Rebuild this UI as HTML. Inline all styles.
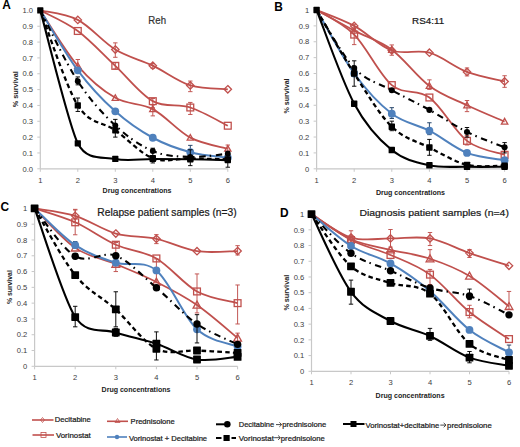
<!DOCTYPE html><html><head><meta charset="utf-8"><style>
html,body{margin:0;padding:0;background:#fff;width:520px;height:447px;overflow:hidden}
svg{display:block}
text{font-family:"Liberation Sans",sans-serif}
</style></head><body>
<svg width="520" height="447" viewBox="0 0 520 447">
<rect width="520" height="447" fill="#fff"/>
<g><path d="M40.30,10.40 V168.80 M40.30,168.80 H227.80" stroke="#c8c8c8" stroke-width="1.2" fill="none"/>
<path d="M37.30,168.80 H40.30 M37.30,152.96 H40.30 M37.30,137.12 H40.30 M37.30,121.28 H40.30 M37.30,105.44 H40.30 M37.30,89.60 H40.30 M37.30,73.76 H40.30 M37.30,57.92 H40.30 M37.30,42.08 H40.30 M37.30,26.24 H40.30 M37.30,10.40 H40.30 M40.30,168.80 V171.80 M77.80,168.80 V171.80 M115.30,168.80 V171.80 M152.80,168.80 V171.80 M190.30,168.80 V171.80 M227.80,168.80 V171.80 " stroke="#c8c8c8" stroke-width="1" fill="none"/>
<text x="33.00" y="171.50" font-size="7.6" fill="#3c3c3c" text-anchor="end">0.0</text>
<text x="33.00" y="155.66" font-size="7.6" fill="#3c3c3c" text-anchor="end">0.1</text>
<text x="33.00" y="139.82" font-size="7.6" fill="#3c3c3c" text-anchor="end">0.2</text>
<text x="33.00" y="123.98" font-size="7.6" fill="#3c3c3c" text-anchor="end">0.3</text>
<text x="33.00" y="108.14" font-size="7.6" fill="#3c3c3c" text-anchor="end">0.4</text>
<text x="33.00" y="92.30" font-size="7.6" fill="#3c3c3c" text-anchor="end">0.5</text>
<text x="33.00" y="76.46" font-size="7.6" fill="#3c3c3c" text-anchor="end">0.6</text>
<text x="33.00" y="60.62" font-size="7.6" fill="#3c3c3c" text-anchor="end">0.7</text>
<text x="33.00" y="44.78" font-size="7.6" fill="#3c3c3c" text-anchor="end">0.8</text>
<text x="33.00" y="28.94" font-size="7.6" fill="#3c3c3c" text-anchor="end">0.9</text>
<text x="33.00" y="13.10" font-size="7.6" fill="#3c3c3c" text-anchor="end">1.0</text>
<text x="40.30" y="182.60" font-size="7.6" fill="#3c3c3c" text-anchor="middle">1</text>
<text x="77.80" y="182.60" font-size="7.6" fill="#3c3c3c" text-anchor="middle">2</text>
<text x="115.30" y="182.60" font-size="7.6" fill="#3c3c3c" text-anchor="middle">3</text>
<text x="152.80" y="182.60" font-size="7.6" fill="#3c3c3c" text-anchor="middle">4</text>
<text x="190.30" y="182.60" font-size="7.6" fill="#3c3c3c" text-anchor="middle">5</text>
<text x="227.80" y="182.60" font-size="7.6" fill="#3c3c3c" text-anchor="middle">6</text>
<text transform="translate(18.00,107.30) rotate(-90)" font-size="7.53" font-weight="bold" fill="#222" textLength="36.10" lengthAdjust="spacingAndGlyphs">% survival</text>
<text x="102.60" y="193.00" font-size="7.40" fill="#222" font-weight="bold" textLength="68.80" lengthAdjust="spacingAndGlyphs">Drug concentrations</text>
<text x="2.20" y="9.20" font-size="11.9" font-weight="bold" fill="#000">A</text>
<text x="148.35" y="23.75" font-size="10.47" fill="#333" stroke="#333" stroke-width="0.22" textLength="17.65" lengthAdjust="spacingAndGlyphs">Reh</text>
<path d="M40.30,10.40 C46.55,11.98 65.30,13.38 77.80,19.90 C90.30,26.42 102.80,41.90 115.30,49.52 C127.80,57.15 140.30,59.69 152.80,65.68 C165.30,71.67 177.80,81.55 190.30,85.48 C202.80,89.42 221.55,88.65 227.80,89.28" stroke="#c0504d" stroke-width="1.8" fill="none"/>
<path d="M115.30,57.29 V42.87 M113.10,57.29 H117.50 M113.10,42.87 H117.50" stroke="#c0504d" stroke-width="0.95" fill="none"/>
<path d="M152.80,68.22 V63.46 M150.60,68.22 H155.00 M150.60,63.46 H155.00" stroke="#c0504d" stroke-width="0.95" fill="none"/>
<path d="M190.30,91.66 V81.05 M188.10,91.66 H192.50 M188.10,81.05 H192.50" stroke="#c0504d" stroke-width="0.95" fill="none"/>
<path d="M77.80,16.20 L81.50,19.90 L77.80,23.60 L74.10,19.90 Z" fill="none" stroke="#c0504d" stroke-width="1.3"/>
<path d="M115.30,45.82 L119.00,49.52 L115.30,53.22 L111.60,49.52 Z" fill="none" stroke="#c0504d" stroke-width="1.3"/>
<path d="M152.80,61.98 L156.50,65.68 L152.80,69.38 L149.10,65.68 Z" fill="none" stroke="#c0504d" stroke-width="1.3"/>
<path d="M190.30,81.78 L194.00,85.48 L190.30,89.18 L186.60,85.48 Z" fill="none" stroke="#c0504d" stroke-width="1.3"/>
<path d="M227.80,85.58 L231.50,89.28 L227.80,92.98 L224.10,89.28 Z" fill="none" stroke="#c0504d" stroke-width="1.3"/>
<path d="M40.30,10.40 C46.55,13.83 65.30,21.75 77.80,30.99 C90.30,40.23 102.80,54.14 115.30,65.84 C127.80,77.54 140.30,94.22 152.80,101.16 C165.30,108.11 177.80,103.41 190.30,107.50 C202.80,111.59 221.55,122.68 227.80,125.72" stroke="#c0504d" stroke-width="1.8" fill="none"/>
<path d="M115.30,69.01 V62.67 M113.10,69.01 H117.50 M113.10,62.67 H117.50" stroke="#c0504d" stroke-width="0.95" fill="none"/>
<path d="M152.80,107.82 V98.47 M150.60,107.82 H155.00 M150.60,98.47 H155.00" stroke="#c0504d" stroke-width="0.95" fill="none"/>
<path d="M190.30,114.47 V102.43 M188.10,114.47 H192.50 M188.10,102.43 H192.50" stroke="#c0504d" stroke-width="0.95" fill="none"/>
<rect x="74.40" y="27.59" width="6.80" height="6.80" fill="none" stroke="#c0504d" stroke-width="1.3"/>
<rect x="111.90" y="62.44" width="6.80" height="6.80" fill="none" stroke="#c0504d" stroke-width="1.3"/>
<rect x="149.40" y="97.76" width="6.80" height="6.80" fill="none" stroke="#c0504d" stroke-width="1.3"/>
<rect x="186.90" y="104.10" width="6.80" height="6.80" fill="none" stroke="#c0504d" stroke-width="1.3"/>
<rect x="224.40" y="122.32" width="6.80" height="6.80" fill="none" stroke="#c0504d" stroke-width="1.3"/>
<path d="M40.30,10.40 C46.55,19.64 65.30,51.27 77.80,65.84 C90.30,80.41 102.80,90.63 115.30,97.84 C127.80,105.04 140.30,102.46 152.80,109.08 C165.30,115.71 177.80,131.00 190.30,137.60 C202.80,144.20 221.55,146.84 227.80,148.68" stroke="#c0504d" stroke-width="1.8" fill="none"/>
<path d="M77.80,72.18 V59.50 M75.60,72.18 H80.00 M75.60,59.50 H80.00" stroke="#c0504d" stroke-width="0.95" fill="none"/>
<path d="M152.80,115.89 V104.96 M150.60,115.89 H155.00 M150.60,104.96 H155.00" stroke="#c0504d" stroke-width="0.95" fill="none"/>
<path d="M227.80,151.38 V145.04 M225.60,151.38 H230.00 M225.60,145.04 H230.00" stroke="#c0504d" stroke-width="0.95" fill="none"/>
<path d="M77.80,62.72 L80.92,68.34 L74.68,68.34 Z" fill="none" stroke="#c0504d" stroke-width="1.3"/>
<path d="M115.30,94.72 L118.42,100.33 L112.18,100.33 Z" fill="none" stroke="#c0504d" stroke-width="1.3"/>
<path d="M152.80,105.96 L155.92,111.58 L149.68,111.58 Z" fill="none" stroke="#c0504d" stroke-width="1.3"/>
<path d="M190.30,134.48 L193.42,140.09 L187.18,140.09 Z" fill="none" stroke="#c0504d" stroke-width="1.3"/>
<path d="M227.80,145.56 L230.92,151.18 L224.68,151.18 Z" fill="none" stroke="#c0504d" stroke-width="1.3"/>
<path d="M40.30,10.40 C46.55,20.38 65.30,53.46 77.80,70.28 C90.30,87.09 102.80,100.05 115.30,111.30 C127.80,122.55 140.30,130.94 152.80,137.75 C165.30,144.56 177.80,148.84 190.30,152.17 C202.80,155.49 221.55,156.79 227.80,157.71" stroke="#4f81bd" stroke-width="2.0" fill="none"/>
<path d="M190.30,156.13 V145.36 M188.10,156.13 H192.50 M188.10,145.36 H192.50" stroke="#1f3f66" stroke-width="0.95" fill="none"/>
<circle cx="77.80" cy="70.28" r="3.9" fill="#4f81bd"/>
<circle cx="115.30" cy="111.30" r="3.9" fill="#4f81bd"/>
<circle cx="152.80" cy="137.75" r="3.9" fill="#4f81bd"/>
<circle cx="190.30" cy="152.17" r="3.9" fill="#4f81bd"/>
<circle cx="227.80" cy="157.71" r="3.9" fill="#4f81bd"/>
<path d="M40.30,10.40 C46.55,22.20 65.30,62.04 77.80,81.20 C90.30,100.37 102.80,113.76 115.30,125.40 C127.80,137.04 140.30,145.81 152.80,151.06 C165.30,156.31 177.80,156.47 190.30,156.92 C202.80,157.37 221.55,154.28 227.80,153.75" stroke="#000000" stroke-width="2.1" fill="none" stroke-dasharray="6.5 4 1.5 4.5"/>
<path d="M77.80,84.85 V76.93 M75.60,84.85 H80.00 M75.60,76.93 H80.00" stroke="#000" stroke-width="0.95" fill="none"/>
<path d="M115.30,137.12 V119.38 M113.10,137.12 H117.50 M113.10,119.38 H117.50" stroke="#000" stroke-width="0.95" fill="none"/>
<circle cx="77.80" cy="81.20" r="2.96" fill="#000"/>
<circle cx="115.30" cy="125.40" r="2.96" fill="#000"/>
<circle cx="152.80" cy="151.06" r="2.96" fill="#000"/>
<circle cx="190.30" cy="156.92" r="2.96" fill="#000"/>
<circle cx="227.80" cy="153.75" r="2.96" fill="#000"/>
<path d="M40.30,10.40 C46.55,26.24 65.87,86.37 77.80,105.44 C89.73,124.51 102.80,121.52 115.30,130.31 C127.80,139.10 140.30,153.49 152.80,158.19 C165.30,162.89 177.80,158.32 190.30,158.50 C202.80,158.69 221.55,159.16 227.80,159.30" stroke="#000000" stroke-width="2.3" fill="none" stroke-dasharray="4.6 3.2"/>
<path d="M77.80,111.46 V98.00 M75.60,111.46 H80.00 M75.60,98.00 H80.00" stroke="#000" stroke-width="0.95" fill="none"/>
<rect x="74.68" y="102.32" width="6.24" height="6.24" rx="0.6" fill="#000"/>
<rect x="112.18" y="127.19" width="6.24" height="6.24" rx="0.6" fill="#000"/>
<rect x="149.68" y="155.07" width="6.24" height="6.24" rx="0.6" fill="#000"/>
<rect x="187.18" y="155.38" width="6.24" height="6.24" rx="0.6" fill="#000"/>
<rect x="224.68" y="156.18" width="6.24" height="6.24" rx="0.6" fill="#000"/>
<path d="M40.30,10.40 C46.55,32.55 68.64,125.15 77.80,143.30 C86.96,161.44 102.80,156.37 115.30,158.98 C127.80,161.59 140.30,158.93 152.80,158.98 C165.30,159.03 177.80,159.11 190.30,159.30 C202.80,159.48 221.55,159.96 227.80,160.09" stroke="#000000" stroke-width="2.1" fill="none"/>
<path d="M152.80,162.94 V148.21 M150.60,162.94 H155.00 M150.60,148.21 H155.00" stroke="#000" stroke-width="0.95" fill="none"/>
<path d="M190.30,165.63 V149.79 M188.10,165.63 H192.50 M188.10,149.79 H192.50" stroke="#000" stroke-width="0.95" fill="none"/>
<path d="M227.80,167.22 V151.38 M225.60,167.22 H230.00 M225.60,151.38 H230.00" stroke="#000" stroke-width="0.95" fill="none"/>
<rect x="74.68" y="140.18" width="6.24" height="6.24" rx="0.6" fill="#000"/>
<rect x="112.18" y="155.86" width="6.24" height="6.24" rx="0.6" fill="#000"/>
<rect x="149.68" y="155.86" width="6.24" height="6.24" rx="0.6" fill="#000"/>
<rect x="187.18" y="156.18" width="6.24" height="6.24" rx="0.6" fill="#000"/>
<rect x="224.68" y="156.97" width="6.24" height="6.24" rx="0.6" fill="#000"/>
<rect x="37.18" y="7.28" width="6.24" height="6.24" rx="0.6" fill="#000"/></g>
<g><path d="M316.60,10.00 V168.80 M316.60,168.80 H504.60" stroke="#c8c8c8" stroke-width="1.2" fill="none"/>
<path d="M313.60,168.80 H316.60 M313.60,152.92 H316.60 M313.60,137.04 H316.60 M313.60,121.16 H316.60 M313.60,105.28 H316.60 M313.60,89.40 H316.60 M313.60,73.52 H316.60 M313.60,57.64 H316.60 M313.60,41.76 H316.60 M313.60,25.88 H316.60 M313.60,10.00 H316.60 M316.60,168.80 V171.80 M354.20,168.80 V171.80 M391.80,168.80 V171.80 M429.40,168.80 V171.80 M467.00,168.80 V171.80 M504.60,168.80 V171.80 " stroke="#c8c8c8" stroke-width="1" fill="none"/>
<text x="309.30" y="171.50" font-size="7.6" fill="#3c3c3c" text-anchor="end">0</text>
<text x="309.30" y="155.62" font-size="7.6" fill="#3c3c3c" text-anchor="end">0.1</text>
<text x="309.30" y="139.74" font-size="7.6" fill="#3c3c3c" text-anchor="end">0.2</text>
<text x="309.30" y="123.86" font-size="7.6" fill="#3c3c3c" text-anchor="end">0.3</text>
<text x="309.30" y="107.98" font-size="7.6" fill="#3c3c3c" text-anchor="end">0.4</text>
<text x="309.30" y="92.10" font-size="7.6" fill="#3c3c3c" text-anchor="end">0.5</text>
<text x="309.30" y="76.22" font-size="7.6" fill="#3c3c3c" text-anchor="end">0.6</text>
<text x="309.30" y="60.34" font-size="7.6" fill="#3c3c3c" text-anchor="end">0.7</text>
<text x="309.30" y="44.46" font-size="7.6" fill="#3c3c3c" text-anchor="end">0.8</text>
<text x="309.30" y="28.58" font-size="7.6" fill="#3c3c3c" text-anchor="end">0.9</text>
<text x="309.30" y="12.70" font-size="7.6" fill="#3c3c3c" text-anchor="end">1</text>
<text x="316.60" y="182.60" font-size="7.6" fill="#3c3c3c" text-anchor="middle">1</text>
<text x="354.20" y="182.60" font-size="7.6" fill="#3c3c3c" text-anchor="middle">2</text>
<text x="391.80" y="182.60" font-size="7.6" fill="#3c3c3c" text-anchor="middle">3</text>
<text x="429.40" y="182.60" font-size="7.6" fill="#3c3c3c" text-anchor="middle">4</text>
<text x="467.00" y="182.60" font-size="7.6" fill="#3c3c3c" text-anchor="middle">5</text>
<text x="504.60" y="182.60" font-size="7.6" fill="#3c3c3c" text-anchor="middle">6</text>
<text transform="translate(289.00,113.60) rotate(-90)" font-size="7.53" font-weight="bold" fill="#222" textLength="35.20" lengthAdjust="spacingAndGlyphs">% survival</text>
<text x="375.90" y="195.00" font-size="7.40" fill="#222" font-weight="bold" textLength="69.10" lengthAdjust="spacingAndGlyphs">Drug concentrations</text>
<text x="274.30" y="10.60" font-size="11.9" font-weight="bold" fill="#000">B</text>
<text x="412.10" y="23.75" font-size="9.64" fill="#1a1a1a" stroke="#1a1a1a" stroke-width="0.22" textLength="32.05" lengthAdjust="spacingAndGlyphs">RS4:11</text>
<path d="M316.60,10.00 C322.87,12.65 341.67,19.13 354.20,25.88 C366.73,32.63 379.27,46.02 391.80,50.49 C404.33,54.97 416.87,49.14 429.40,52.72 C441.93,56.29 454.47,67.14 467.00,71.93 C479.53,76.72 498.33,79.87 504.60,81.46" stroke="#c0504d" stroke-width="1.8" fill="none"/>
<path d="M391.80,55.26 V44.94 M389.60,55.26 H394.00 M389.60,44.94 H394.00" stroke="#c0504d" stroke-width="0.95" fill="none"/>
<path d="M467.00,75.90 V67.96 M464.80,75.90 H469.20 M464.80,67.96 H469.20" stroke="#c0504d" stroke-width="0.95" fill="none"/>
<path d="M504.60,87.34 V75.74 M502.40,87.34 H506.80 M502.40,75.74 H506.80" stroke="#c0504d" stroke-width="0.95" fill="none"/>
<path d="M354.20,22.18 L357.90,25.88 L354.20,29.58 L350.50,25.88 Z" fill="none" stroke="#c0504d" stroke-width="1.3"/>
<path d="M391.80,46.79 L395.50,50.49 L391.80,54.19 L388.10,50.49 Z" fill="none" stroke="#c0504d" stroke-width="1.3"/>
<path d="M429.40,49.02 L433.10,52.72 L429.40,56.42 L425.70,52.72 Z" fill="none" stroke="#c0504d" stroke-width="1.3"/>
<path d="M467.00,68.23 L470.70,71.93 L467.00,75.63 L463.30,71.93 Z" fill="none" stroke="#c0504d" stroke-width="1.3"/>
<path d="M504.60,77.76 L508.30,81.46 L504.60,85.16 L500.90,81.46 Z" fill="none" stroke="#c0504d" stroke-width="1.3"/>
<path d="M316.60,10.00 C322.87,14.10 341.67,22.10 354.20,34.61 C366.73,47.13 379.27,74.63 391.80,85.11 C404.33,95.59 416.87,88.21 429.40,97.50 C441.93,106.79 454.47,131.30 467.00,140.85 C479.53,150.41 498.33,152.50 504.60,154.83" stroke="#c0504d" stroke-width="1.8" fill="none"/>
<path d="M354.20,44.62 V24.29 M352.00,44.62 H356.40 M352.00,24.29 H356.40" stroke="#c0504d" stroke-width="0.95" fill="none"/>
<path d="M467.00,144.98 V135.45 M464.80,144.98 H469.20 M464.80,135.45 H469.20" stroke="#c0504d" stroke-width="0.95" fill="none"/>
<path d="M504.60,159.27 V151.33 M502.40,159.27 H506.80 M502.40,151.33 H506.80" stroke="#c0504d" stroke-width="0.95" fill="none"/>
<rect x="350.80" y="31.21" width="6.80" height="6.80" fill="none" stroke="#c0504d" stroke-width="1.3"/>
<rect x="388.40" y="81.71" width="6.80" height="6.80" fill="none" stroke="#c0504d" stroke-width="1.3"/>
<rect x="426.00" y="94.10" width="6.80" height="6.80" fill="none" stroke="#c0504d" stroke-width="1.3"/>
<rect x="463.60" y="137.45" width="6.80" height="6.80" fill="none" stroke="#c0504d" stroke-width="1.3"/>
<rect x="501.20" y="151.43" width="6.80" height="6.80" fill="none" stroke="#c0504d" stroke-width="1.3"/>
<path d="M316.60,10.00 C322.87,13.44 341.67,24.03 354.20,30.64 C366.73,37.26 379.27,40.49 391.80,49.70 C404.33,58.91 416.87,76.64 429.40,85.91 C441.93,95.17 454.47,99.33 467.00,105.28 C479.53,111.23 498.33,118.91 504.60,121.64" stroke="#c0504d" stroke-width="1.8" fill="none"/>
<path d="M429.40,89.40 V79.87 M427.20,89.40 H431.60 M427.20,79.87 H431.60" stroke="#c0504d" stroke-width="0.95" fill="none"/>
<path d="M467.00,111.63 V100.52 M464.80,111.63 H469.20 M464.80,100.52 H469.20" stroke="#c0504d" stroke-width="0.95" fill="none"/>
<path d="M354.20,27.45 L357.40,33.20 L351.00,33.20 Z" fill="none" stroke="#c0504d" stroke-width="1.3"/>
<path d="M391.80,46.50 L395.00,52.26 L388.60,52.26 Z" fill="none" stroke="#c0504d" stroke-width="1.3"/>
<path d="M429.40,82.71 L432.60,88.46 L426.20,88.46 Z" fill="none" stroke="#c0504d" stroke-width="1.3"/>
<path d="M467.00,102.08 L470.20,107.84 L463.80,107.84 Z" fill="none" stroke="#c0504d" stroke-width="1.3"/>
<path d="M504.60,118.44 L507.80,124.19 L501.40,124.19 Z" fill="none" stroke="#c0504d" stroke-width="1.3"/>
<path d="M316.60,10.00 C322.87,20.59 341.67,56.24 354.20,73.52 C366.73,90.80 379.27,104.17 391.80,113.70 C404.33,123.22 416.87,124.15 429.40,130.69 C441.93,137.23 454.47,148.00 467.00,152.92 C479.53,157.84 498.33,159.01 504.60,160.22" stroke="#4f81bd" stroke-width="2.0" fill="none"/>
<path d="M391.80,118.46 V107.66 M389.60,118.46 H394.00 M389.60,107.66 H394.00" stroke="#1f3f66" stroke-width="0.95" fill="none"/>
<path d="M429.40,134.66 V122.75 M427.20,134.66 H431.60 M427.20,122.75 H431.60" stroke="#1f3f66" stroke-width="0.95" fill="none"/>
<circle cx="354.20" cy="73.52" r="3.9" fill="#4f81bd"/>
<circle cx="391.80" cy="113.70" r="3.9" fill="#4f81bd"/>
<circle cx="429.40" cy="130.69" r="3.9" fill="#4f81bd"/>
<circle cx="467.00" cy="152.92" r="3.9" fill="#4f81bd"/>
<circle cx="504.60" cy="160.22" r="3.9" fill="#4f81bd"/>
<path d="M316.60,10.00 C322.87,19.66 341.67,54.60 354.20,67.96 C366.73,81.33 379.27,83.21 391.80,90.19 C404.33,97.18 416.87,102.92 429.40,109.89 C441.93,116.85 454.47,125.71 467.00,131.96 C479.53,138.20 498.33,144.79 504.60,147.36" stroke="#000000" stroke-width="2.1" fill="none" stroke-dasharray="6.5 4 1.5 4.5"/>
<path d="M354.20,86.22 V60.82 M352.00,86.22 H356.40 M352.00,60.82 H356.40" stroke="#000" stroke-width="0.95" fill="none"/>
<path d="M467.00,137.04 V127.51 M464.80,137.04 H469.20 M464.80,127.51 H469.20" stroke="#000" stroke-width="0.95" fill="none"/>
<path d="M504.60,152.92 V142.60 M502.40,152.92 H506.80 M502.40,142.60 H506.80" stroke="#000" stroke-width="0.95" fill="none"/>
<circle cx="354.20" cy="67.96" r="3.03" fill="#000"/>
<circle cx="391.80" cy="90.19" r="3.03" fill="#000"/>
<circle cx="429.40" cy="109.89" r="3.03" fill="#000"/>
<circle cx="467.00" cy="131.96" r="3.03" fill="#000"/>
<circle cx="504.60" cy="147.36" r="3.03" fill="#000"/>
<path d="M316.60,10.00 C322.87,20.59 341.67,54.07 354.20,73.52 C366.73,92.97 379.27,114.38 391.80,126.72 C404.33,139.05 416.87,141.17 429.40,147.52 C441.93,153.87 454.47,161.81 467.00,164.83 C479.53,167.85 498.33,165.49 504.60,165.62" stroke="#000000" stroke-width="2.3" fill="none" stroke-dasharray="4.6 3.2"/>
<path d="M391.80,130.69 V121.16 M389.60,130.69 H394.00 M389.60,121.16 H394.00" stroke="#000" stroke-width="0.95" fill="none"/>
<path d="M429.40,155.30 V139.42 M427.20,155.30 H431.60 M427.20,139.42 H431.60" stroke="#000" stroke-width="0.95" fill="none"/>
<rect x="351.00" y="70.32" width="6.40" height="6.40" rx="0.6" fill="#000"/>
<rect x="388.60" y="123.52" width="6.40" height="6.40" rx="0.6" fill="#000"/>
<rect x="426.20" y="144.32" width="6.40" height="6.40" rx="0.6" fill="#000"/>
<rect x="463.80" y="161.63" width="6.40" height="6.40" rx="0.6" fill="#000"/>
<rect x="501.40" y="162.43" width="6.40" height="6.40" rx="0.6" fill="#000"/>
<path d="M316.60,10.00 C322.87,25.62 341.67,80.35 354.20,103.69 C366.73,127.04 379.27,139.79 391.80,150.06 C404.33,160.33 416.87,162.53 429.40,165.31 C441.93,168.09 454.47,166.50 467.00,166.74 C479.53,166.97 498.33,166.74 504.60,166.74" stroke="#000000" stroke-width="2.1" fill="none"/>
<rect x="351.00" y="100.49" width="6.40" height="6.40" rx="0.6" fill="#000"/>
<rect x="388.60" y="146.86" width="6.40" height="6.40" rx="0.6" fill="#000"/>
<rect x="426.20" y="162.11" width="6.40" height="6.40" rx="0.6" fill="#000"/>
<rect x="463.80" y="163.54" width="6.40" height="6.40" rx="0.6" fill="#000"/>
<rect x="501.40" y="163.54" width="6.40" height="6.40" rx="0.6" fill="#000"/>
<rect x="313.40" y="6.80" width="6.40" height="6.40" rx="0.6" fill="#000"/></g>
<g><path d="M34.60,208.40 V366.30 M34.60,366.30 H237.60" stroke="#c8c8c8" stroke-width="1.2" fill="none"/>
<path d="M31.60,366.30 H34.60 M31.60,350.51 H34.60 M31.60,334.72 H34.60 M31.60,318.93 H34.60 M31.60,303.14 H34.60 M31.60,287.35 H34.60 M31.60,271.56 H34.60 M31.60,255.77 H34.60 M31.60,239.98 H34.60 M31.60,224.19 H34.60 M31.60,208.40 H34.60 M34.60,366.30 V369.30 M75.20,366.30 V369.30 M115.80,366.30 V369.30 M156.40,366.30 V369.30 M197.00,366.30 V369.30 M237.60,366.30 V369.30 " stroke="#c8c8c8" stroke-width="1" fill="none"/>
<text x="27.30" y="369.00" font-size="7.6" fill="#3c3c3c" text-anchor="end">0</text>
<text x="27.30" y="353.21" font-size="7.6" fill="#3c3c3c" text-anchor="end">0.1</text>
<text x="27.30" y="337.42" font-size="7.6" fill="#3c3c3c" text-anchor="end">0.2</text>
<text x="27.30" y="321.63" font-size="7.6" fill="#3c3c3c" text-anchor="end">0.3</text>
<text x="27.30" y="305.84" font-size="7.6" fill="#3c3c3c" text-anchor="end">0.4</text>
<text x="27.30" y="290.05" font-size="7.6" fill="#3c3c3c" text-anchor="end">0.5</text>
<text x="27.30" y="274.26" font-size="7.6" fill="#3c3c3c" text-anchor="end">0.6</text>
<text x="27.30" y="258.47" font-size="7.6" fill="#3c3c3c" text-anchor="end">0.7</text>
<text x="27.30" y="242.68" font-size="7.6" fill="#3c3c3c" text-anchor="end">0.8</text>
<text x="27.30" y="226.89" font-size="7.6" fill="#3c3c3c" text-anchor="end">0.9</text>
<text x="27.30" y="211.10" font-size="7.6" fill="#3c3c3c" text-anchor="end">1</text>
<text x="34.60" y="380.10" font-size="7.6" fill="#3c3c3c" text-anchor="middle">1</text>
<text x="75.20" y="380.10" font-size="7.6" fill="#3c3c3c" text-anchor="middle">2</text>
<text x="115.80" y="380.10" font-size="7.6" fill="#3c3c3c" text-anchor="middle">3</text>
<text x="156.40" y="380.10" font-size="7.6" fill="#3c3c3c" text-anchor="middle">4</text>
<text x="197.00" y="380.10" font-size="7.6" fill="#3c3c3c" text-anchor="middle">5</text>
<text x="237.60" y="380.10" font-size="7.6" fill="#3c3c3c" text-anchor="middle">6</text>
<text transform="translate(12.10,304.10) rotate(-90)" font-size="7.25" font-weight="bold" fill="#222" textLength="33.90" lengthAdjust="spacingAndGlyphs">% survival</text>
<text x="101.60" y="392.00" font-size="7.40" fill="#222" font-weight="bold" textLength="68.80" lengthAdjust="spacingAndGlyphs">Drug concentrations</text>
<text x="0.50" y="210.60" font-size="11.9" font-weight="bold" fill="#000">C</text>
<text x="97.30" y="215.80" font-size="10.34" fill="#1a1a1a" stroke="#1a1a1a" stroke-width="0.22" textLength="139.30" lengthAdjust="spacingAndGlyphs">Relapse patient samples (n=3)</text>
<path d="M34.60,208.40 C41.37,209.64 61.67,211.64 75.20,215.82 C88.73,220.01 102.27,229.66 115.80,233.51 C129.33,237.35 142.87,235.93 156.40,238.87 C169.93,241.82 183.47,249.16 197.00,251.19 C210.53,253.22 230.83,251.06 237.60,251.03" stroke="#c0504d" stroke-width="1.8" fill="none"/>
<path d="M75.20,222.61 V209.35 M73.00,222.61 H77.40 M73.00,209.35 H77.40" stroke="#c0504d" stroke-width="0.95" fill="none"/>
<path d="M156.40,243.61 V234.61 M154.20,243.61 H158.60 M154.20,234.61 H158.60" stroke="#c0504d" stroke-width="0.95" fill="none"/>
<path d="M237.60,254.98 V245.66 M235.40,254.98 H239.80 M235.40,245.66 H239.80" stroke="#c0504d" stroke-width="0.95" fill="none"/>
<path d="M75.20,212.12 L78.90,215.82 L75.20,219.52 L71.50,215.82 Z" fill="none" stroke="#c0504d" stroke-width="1.3"/>
<path d="M115.80,229.81 L119.50,233.51 L115.80,237.21 L112.10,233.51 Z" fill="none" stroke="#c0504d" stroke-width="1.3"/>
<path d="M156.40,235.17 L160.10,238.87 L156.40,242.57 L152.70,238.87 Z" fill="none" stroke="#c0504d" stroke-width="1.3"/>
<path d="M197.00,247.49 L200.70,251.19 L197.00,254.89 L193.30,251.19 Z" fill="none" stroke="#c0504d" stroke-width="1.3"/>
<path d="M237.60,247.33 L241.30,251.03 L237.60,254.73 L233.90,251.03 Z" fill="none" stroke="#c0504d" stroke-width="1.3"/>
<path d="M34.60,208.40 C41.37,210.72 61.67,216.24 75.20,222.30 C88.73,228.35 102.27,238.69 115.80,244.72 C129.33,250.74 142.87,250.66 156.40,258.45 C169.93,266.24 183.47,284.01 197.00,291.46 C210.53,298.90 230.83,301.19 237.60,303.14" stroke="#c0504d" stroke-width="1.8" fill="none"/>
<path d="M75.20,234.77 V209.98 M73.00,234.77 H77.40 M73.00,209.98 H77.40" stroke="#c0504d" stroke-width="0.95" fill="none"/>
<path d="M115.80,271.56 V242.51 M113.60,271.56 H118.00 M113.60,242.51 H118.00" stroke="#c0504d" stroke-width="0.95" fill="none"/>
<path d="M197.00,312.93 V273.93 M194.80,312.93 H199.20 M194.80,273.93 H199.20" stroke="#c0504d" stroke-width="0.95" fill="none"/>
<path d="M237.60,323.98 V284.98 M235.40,323.98 H239.80 M235.40,284.98 H239.80" stroke="#c0504d" stroke-width="0.95" fill="none"/>
<rect x="71.80" y="218.90" width="6.80" height="6.80" fill="none" stroke="#c0504d" stroke-width="1.3"/>
<rect x="112.40" y="241.32" width="6.80" height="6.80" fill="none" stroke="#c0504d" stroke-width="1.3"/>
<rect x="153.00" y="255.05" width="6.80" height="6.80" fill="none" stroke="#c0504d" stroke-width="1.3"/>
<rect x="193.60" y="288.06" width="6.80" height="6.80" fill="none" stroke="#c0504d" stroke-width="1.3"/>
<rect x="234.20" y="299.74" width="6.80" height="6.80" fill="none" stroke="#c0504d" stroke-width="1.3"/>
<path d="M34.60,208.40 C41.37,214.98 61.67,238.59 75.20,247.88 C88.73,257.16 102.27,258.45 115.80,264.14 C129.33,269.82 142.87,275.17 156.40,281.98 C169.93,288.80 183.47,295.69 197.00,305.03 C210.53,314.38 230.83,332.54 237.60,338.04" stroke="#c0504d" stroke-width="1.8" fill="none"/>
<path d="M156.40,282.77 V258.93 M154.20,282.77 H158.60 M154.20,258.93 H158.60" stroke="#c0504d" stroke-width="0.95" fill="none"/>
<path d="M237.60,342.62 V333.14 M235.40,342.62 H239.80 M235.40,333.14 H239.80" stroke="#c0504d" stroke-width="0.95" fill="none"/>
<path d="M75.20,243.97 L79.10,251.00 L71.30,251.00 Z" fill="none" stroke="#c0504d" stroke-width="1.3"/>
<path d="M115.80,260.24 L119.70,267.26 L111.90,267.26 Z" fill="none" stroke="#c0504d" stroke-width="1.3"/>
<path d="M156.40,278.08 L160.30,285.10 L152.50,285.10 Z" fill="none" stroke="#c0504d" stroke-width="1.3"/>
<path d="M197.00,301.13 L200.90,308.15 L193.10,308.15 Z" fill="none" stroke="#c0504d" stroke-width="1.3"/>
<path d="M237.60,334.14 L241.50,341.16 L233.70,341.16 Z" fill="none" stroke="#c0504d" stroke-width="1.3"/>
<path d="M34.60,208.40 C41.37,214.53 61.67,236.14 75.20,245.19 C88.73,254.24 102.27,258.51 115.80,262.72 C129.33,266.93 142.87,259.35 156.40,270.45 C169.93,281.56 183.47,316.69 197.00,329.35 C210.53,342.01 230.83,343.56 237.60,346.40" stroke="#4f81bd" stroke-width="2.0" fill="none"/>
<path d="M75.20,247.88 V241.56 M73.00,247.88 H77.40 M73.00,241.56 H77.40" stroke="#1f3f66" stroke-width="0.95" fill="none"/>
<circle cx="75.20" cy="245.19" r="3.9" fill="#4f81bd"/>
<circle cx="115.80" cy="262.72" r="3.9" fill="#4f81bd"/>
<circle cx="156.40" cy="270.45" r="3.9" fill="#4f81bd"/>
<circle cx="197.00" cy="329.35" r="3.9" fill="#4f81bd"/>
<circle cx="237.60" cy="346.40" r="3.9" fill="#4f81bd"/>
<path d="M34.60,208.40 C41.37,216.37 61.67,248.35 75.20,256.24 C88.73,264.14 102.27,250.51 115.80,255.77 C129.33,261.03 142.87,276.45 156.40,287.82 C169.93,299.19 183.47,314.56 197.00,323.98 C210.53,333.40 230.83,340.96 237.60,344.35" stroke="#000000" stroke-width="2.1" fill="none" stroke-dasharray="6.5 4 1.5 4.5"/>
<path d="M197.00,342.93 V314.67 M194.80,342.93 H199.20 M194.80,314.67 H199.20" stroke="#000" stroke-width="0.95" fill="none"/>
<circle cx="75.20" cy="256.24" r="3.70" fill="#000"/>
<circle cx="115.80" cy="255.77" r="3.70" fill="#000"/>
<circle cx="156.40" cy="287.82" r="3.70" fill="#000"/>
<circle cx="197.00" cy="323.98" r="3.70" fill="#000"/>
<circle cx="237.60" cy="344.35" r="3.70" fill="#000"/>
<path d="M34.60,208.40 C41.37,219.51 61.67,258.19 75.20,275.03 C88.73,291.88 102.27,297.17 115.80,309.46 C129.33,321.75 142.87,341.93 156.40,348.77 C169.93,355.62 183.47,349.83 197.00,350.51 C210.53,351.19 230.83,352.48 237.60,352.88" stroke="#000000" stroke-width="2.3" fill="none" stroke-dasharray="4.6 3.2"/>
<path d="M115.80,326.82 V291.77 M113.60,326.82 H118.00 M113.60,291.77 H118.00" stroke="#000" stroke-width="0.95" fill="none"/>
<rect x="71.30" y="271.13" width="7.80" height="7.80" rx="0.6" fill="#000"/>
<rect x="111.90" y="305.56" width="7.80" height="7.80" rx="0.6" fill="#000"/>
<rect x="152.50" y="344.87" width="7.80" height="7.80" rx="0.6" fill="#000"/>
<rect x="193.10" y="346.61" width="7.80" height="7.80" rx="0.6" fill="#000"/>
<rect x="233.70" y="348.98" width="7.80" height="7.80" rx="0.6" fill="#000"/>
<path d="M34.60,208.40 C41.37,226.51 63.31,298.86 75.20,317.04 C87.09,335.21 102.27,328.06 115.80,332.51 C129.33,336.96 142.87,339.22 156.40,343.72 C169.93,348.22 183.47,357.33 197.00,359.51 C210.53,361.69 230.83,357.27 237.60,356.83" stroke="#000000" stroke-width="2.1" fill="none"/>
<path d="M75.20,326.82 V306.30 M73.00,326.82 H77.40 M73.00,306.30 H77.40" stroke="#000" stroke-width="0.95" fill="none"/>
<path d="M115.80,336.30 V328.40 M113.60,336.30 H118.00 M113.60,328.40 H118.00" stroke="#000" stroke-width="0.95" fill="none"/>
<path d="M156.40,359.98 V331.88 M154.20,359.98 H158.60 M154.20,331.88 H158.60" stroke="#000" stroke-width="0.95" fill="none"/>
<rect x="71.30" y="313.14" width="7.80" height="7.80" rx="0.6" fill="#000"/>
<rect x="111.90" y="328.61" width="7.80" height="7.80" rx="0.6" fill="#000"/>
<rect x="152.50" y="339.82" width="7.80" height="7.80" rx="0.6" fill="#000"/>
<rect x="193.10" y="355.61" width="7.80" height="7.80" rx="0.6" fill="#000"/>
<rect x="233.70" y="352.93" width="7.80" height="7.80" rx="0.6" fill="#000"/>
<rect x="30.70" y="204.50" width="7.80" height="7.80" rx="0.6" fill="#000"/></g>
<g><path d="M311.50,214.10 V371.30 M311.50,371.30 H509.00" stroke="#c8c8c8" stroke-width="1.2" fill="none"/>
<path d="M308.50,371.30 H311.50 M308.50,355.58 H311.50 M308.50,339.86 H311.50 M308.50,324.14 H311.50 M308.50,308.42 H311.50 M308.50,292.70 H311.50 M308.50,276.98 H311.50 M308.50,261.26 H311.50 M308.50,245.54 H311.50 M308.50,229.82 H311.50 M308.50,214.10 H311.50 M311.50,371.30 V374.30 M351.00,371.30 V374.30 M390.50,371.30 V374.30 M430.00,371.30 V374.30 M469.50,371.30 V374.30 M509.00,371.30 V374.30 " stroke="#c8c8c8" stroke-width="1" fill="none"/>
<text x="304.20" y="374.00" font-size="7.6" fill="#3c3c3c" text-anchor="end">0</text>
<text x="304.20" y="358.28" font-size="7.6" fill="#3c3c3c" text-anchor="end">0.1</text>
<text x="304.20" y="342.56" font-size="7.6" fill="#3c3c3c" text-anchor="end">0.2</text>
<text x="304.20" y="326.84" font-size="7.6" fill="#3c3c3c" text-anchor="end">0.3</text>
<text x="304.20" y="311.12" font-size="7.6" fill="#3c3c3c" text-anchor="end">0.4</text>
<text x="304.20" y="295.40" font-size="7.6" fill="#3c3c3c" text-anchor="end">0.5</text>
<text x="304.20" y="279.68" font-size="7.6" fill="#3c3c3c" text-anchor="end">0.6</text>
<text x="304.20" y="263.96" font-size="7.6" fill="#3c3c3c" text-anchor="end">0.7</text>
<text x="304.20" y="248.24" font-size="7.6" fill="#3c3c3c" text-anchor="end">0.8</text>
<text x="304.20" y="232.52" font-size="7.6" fill="#3c3c3c" text-anchor="end">0.9</text>
<text x="304.20" y="216.80" font-size="7.6" fill="#3c3c3c" text-anchor="end">1</text>
<text x="311.50" y="385.10" font-size="7.6" fill="#3c3c3c" text-anchor="middle">1</text>
<text x="351.00" y="385.10" font-size="7.6" fill="#3c3c3c" text-anchor="middle">2</text>
<text x="390.50" y="385.10" font-size="7.6" fill="#3c3c3c" text-anchor="middle">3</text>
<text x="430.00" y="385.10" font-size="7.6" fill="#3c3c3c" text-anchor="middle">4</text>
<text x="469.50" y="385.10" font-size="7.6" fill="#3c3c3c" text-anchor="middle">5</text>
<text x="509.00" y="385.10" font-size="7.6" fill="#3c3c3c" text-anchor="middle">6</text>
<text transform="translate(288.80,310.60) rotate(-90)" font-size="7.39" font-weight="bold" fill="#222" textLength="35.80" lengthAdjust="spacingAndGlyphs">% survival</text>
<text x="375.60" y="397.50" font-size="7.40" fill="#222" font-weight="bold" textLength="69.00" lengthAdjust="spacingAndGlyphs">Drug concentrations</text>
<text x="280.00" y="217.30" font-size="11.9" font-weight="bold" fill="#000">D</text>
<text x="359.40" y="215.90" font-size="9.92" fill="#1a1a1a" stroke="#1a1a1a" stroke-width="0.22" textLength="149.50" lengthAdjust="spacingAndGlyphs">Diagnosis patient samples (n=4)</text>
<path d="M311.50,214.10 C318.08,218.00 337.83,233.46 351.00,237.52 C364.17,241.58 377.33,238.31 390.50,238.47 C403.67,238.62 416.83,236.03 430.00,238.47 C443.17,240.90 456.33,248.53 469.50,253.09 C482.67,257.64 502.42,263.70 509.00,265.82" stroke="#c0504d" stroke-width="1.8" fill="none"/>
<path d="M351.00,242.40 V230.76 M348.80,242.40 H353.20 M348.80,230.76 H353.20" stroke="#c0504d" stroke-width="0.95" fill="none"/>
<path d="M390.50,247.11 V229.51 M388.30,247.11 H392.70 M388.30,229.51 H392.70" stroke="#c0504d" stroke-width="0.95" fill="none"/>
<path d="M430.00,245.54 V232.49 M427.80,245.54 H432.20 M427.80,232.49 H432.20" stroke="#c0504d" stroke-width="0.95" fill="none"/>
<path d="M469.50,257.49 V249.47 M467.30,257.49 H471.70 M467.30,249.47 H471.70" stroke="#c0504d" stroke-width="0.95" fill="none"/>
<path d="M351.00,233.82 L354.70,237.52 L351.00,241.22 L347.30,237.52 Z" fill="none" stroke="#c0504d" stroke-width="1.3"/>
<path d="M390.50,234.77 L394.20,238.47 L390.50,242.17 L386.80,238.47 Z" fill="none" stroke="#c0504d" stroke-width="1.3"/>
<path d="M430.00,234.77 L433.70,238.47 L430.00,242.17 L426.30,238.47 Z" fill="none" stroke="#c0504d" stroke-width="1.3"/>
<path d="M469.50,249.39 L473.20,253.09 L469.50,256.79 L465.80,253.09 Z" fill="none" stroke="#c0504d" stroke-width="1.3"/>
<path d="M509.00,262.12 L512.70,265.82 L509.00,269.52 L505.30,265.82 Z" fill="none" stroke="#c0504d" stroke-width="1.3"/>
<path d="M311.50,214.10 C318.08,218.42 337.83,233.23 351.00,240.04 C364.17,246.85 377.33,249.21 390.50,254.97 C403.67,260.74 416.83,265.11 430.00,274.62 C443.17,284.13 456.33,301.29 469.50,312.04 C482.67,322.78 502.42,334.57 509.00,339.07" stroke="#c0504d" stroke-width="1.8" fill="none"/>
<path d="M430.00,284.53 V269.43 M427.80,284.53 H432.20 M427.80,269.43 H432.20" stroke="#c0504d" stroke-width="0.95" fill="none"/>
<path d="M469.50,317.85 V305.28 M467.30,317.85 H471.70 M467.30,305.28 H471.70" stroke="#c0504d" stroke-width="0.95" fill="none"/>
<rect x="347.60" y="236.64" width="6.80" height="6.80" fill="none" stroke="#c0504d" stroke-width="1.3"/>
<rect x="387.10" y="251.57" width="6.80" height="6.80" fill="none" stroke="#c0504d" stroke-width="1.3"/>
<rect x="426.60" y="271.22" width="6.80" height="6.80" fill="none" stroke="#c0504d" stroke-width="1.3"/>
<rect x="466.10" y="308.64" width="6.80" height="6.80" fill="none" stroke="#c0504d" stroke-width="1.3"/>
<rect x="505.60" y="335.67" width="6.80" height="6.80" fill="none" stroke="#c0504d" stroke-width="1.3"/>
<path d="M311.50,214.10 C318.08,218.29 337.83,233.30 351.00,239.25 C364.17,245.20 377.33,246.54 390.50,249.78 C403.67,253.03 416.83,254.37 430.00,258.74 C443.17,263.12 456.33,268.10 469.50,276.04 C482.67,283.98 502.42,301.32 509.00,306.38" stroke="#c0504d" stroke-width="1.8" fill="none"/>
<path d="M430.00,260.32 V249.63 M427.80,260.32 H432.20 M427.80,249.63 H432.20" stroke="#c0504d" stroke-width="0.95" fill="none"/>
<path d="M509.00,309.36 V291.44 M506.80,309.36 H511.20 M506.80,291.44 H511.20" stroke="#c0504d" stroke-width="0.95" fill="none"/>
<path d="M351.00,235.35 L354.90,242.37 L347.10,242.37 Z" fill="none" stroke="#c0504d" stroke-width="1.3"/>
<path d="M390.50,245.88 L394.40,252.90 L386.60,252.90 Z" fill="none" stroke="#c0504d" stroke-width="1.3"/>
<path d="M430.00,254.84 L433.90,261.86 L426.10,261.86 Z" fill="none" stroke="#c0504d" stroke-width="1.3"/>
<path d="M469.50,272.14 L473.40,279.16 L465.60,279.16 Z" fill="none" stroke="#c0504d" stroke-width="1.3"/>
<path d="M509.00,302.48 L512.90,309.50 L505.10,309.50 Z" fill="none" stroke="#c0504d" stroke-width="1.3"/>
<path d="M311.50,214.10 C318.08,219.42 337.83,237.78 351.00,246.01 C364.17,254.24 377.33,255.94 390.50,263.46 C403.67,270.98 416.83,280.05 430.00,291.13 C443.17,302.21 456.33,319.74 469.50,329.96 C482.67,340.17 502.42,348.69 509.00,352.44" stroke="#4f81bd" stroke-width="2.0" fill="none"/>
<path d="M509.00,355.58 V345.05 M506.80,355.58 H511.20 M506.80,345.05 H511.20" stroke="#1f3f66" stroke-width="0.95" fill="none"/>
<circle cx="351.00" cy="246.01" r="3.9" fill="#4f81bd"/>
<circle cx="390.50" cy="263.46" r="3.9" fill="#4f81bd"/>
<circle cx="430.00" cy="291.13" r="3.9" fill="#4f81bd"/>
<circle cx="469.50" cy="329.96" r="3.9" fill="#4f81bd"/>
<circle cx="509.00" cy="352.44" r="3.9" fill="#4f81bd"/>
<path d="M311.50,214.10 C318.08,220.62 337.83,243.81 351.00,253.24 C364.17,262.67 377.33,264.90 390.50,270.69 C403.67,276.48 416.83,283.77 430.00,287.98 C443.17,292.20 456.33,291.52 469.50,296.00 C482.67,300.48 502.42,311.72 509.00,314.87" stroke="#000000" stroke-width="2.1" fill="none" stroke-dasharray="6.5 4 1.5 4.5"/>
<path d="M469.50,299.62 V289.08 M467.30,299.62 H471.70 M467.30,289.08 H471.70" stroke="#000" stroke-width="0.95" fill="none"/>
<circle cx="351.00" cy="253.24" r="3.70" fill="#000"/>
<circle cx="390.50" cy="270.69" r="3.70" fill="#000"/>
<circle cx="430.00" cy="287.98" r="3.70" fill="#000"/>
<circle cx="469.50" cy="296.00" r="3.70" fill="#000"/>
<circle cx="509.00" cy="314.87" r="3.70" fill="#000"/>
<path d="M311.50,214.10 C318.08,222.80 337.83,254.81 351.00,266.29 C364.17,277.77 377.33,278.39 390.50,282.95 C403.67,287.51 416.83,283.48 430.00,293.64 C443.17,303.81 456.33,332.89 469.50,343.95 C482.67,355.00 502.42,357.31 509.00,359.98" stroke="#000000" stroke-width="2.3" fill="none" stroke-dasharray="4.6 3.2"/>
<rect x="347.10" y="262.39" width="7.80" height="7.80" rx="0.6" fill="#000"/>
<rect x="386.60" y="279.05" width="7.80" height="7.80" rx="0.6" fill="#000"/>
<rect x="426.10" y="289.74" width="7.80" height="7.80" rx="0.6" fill="#000"/>
<rect x="465.60" y="340.05" width="7.80" height="7.80" rx="0.6" fill="#000"/>
<rect x="505.10" y="356.08" width="7.80" height="7.80" rx="0.6" fill="#000"/>
<path d="M311.50,214.10 C318.08,227.04 337.83,273.94 351.00,291.76 C364.17,309.57 377.33,313.63 390.50,321.00 C403.67,328.36 416.83,329.83 430.00,335.93 C443.17,342.03 456.33,352.65 469.50,357.62 C482.67,362.60 502.42,364.44 509.00,365.80" stroke="#000000" stroke-width="2.1" fill="none"/>
<path d="M351.00,304.18 V280.12 M348.80,304.18 H353.20 M348.80,280.12 H353.20" stroke="#000" stroke-width="0.95" fill="none"/>
<path d="M430.00,340.33 V328.38 M427.80,340.33 H432.20 M427.80,328.38 H432.20" stroke="#000" stroke-width="0.95" fill="none"/>
<path d="M469.50,362.81 V351.49 M467.30,362.81 H471.70 M467.30,351.49 H471.70" stroke="#000" stroke-width="0.95" fill="none"/>
<rect x="347.10" y="287.86" width="7.80" height="7.80" rx="0.6" fill="#000"/>
<rect x="386.60" y="317.10" width="7.80" height="7.80" rx="0.6" fill="#000"/>
<rect x="426.10" y="332.03" width="7.80" height="7.80" rx="0.6" fill="#000"/>
<rect x="465.60" y="353.72" width="7.80" height="7.80" rx="0.6" fill="#000"/>
<rect x="505.10" y="361.90" width="7.80" height="7.80" rx="0.6" fill="#000"/>
<rect x="307.60" y="210.20" width="7.80" height="7.80" rx="0.6" fill="#000"/></g>
<g><path d="M32.00,420.00 H53.50" stroke="#c0504d" stroke-width="1.6"/>
<path d="M42.5,417.5 L44.5,420 L42.5,422.5 L40.5,420Z" fill="none" stroke="#c0504d" stroke-width="0.8"/>
<text x="54.80" y="422.10" font-size="7.26" fill="#222" stroke="#222" stroke-width="0.22" textLength="36.00" lengthAdjust="spacingAndGlyphs">Decitabine</text>
<path d="M32.50,435.00 H54.00" stroke="#c0504d" stroke-width="1.6"/>
<rect x="41" y="432.5" width="5" height="5" fill="none" stroke="#c0504d" stroke-width="0.8"/>
<text x="55.90" y="438.30" font-size="7.40" fill="#222" stroke="#222" stroke-width="0.22" textLength="34.90" lengthAdjust="spacingAndGlyphs">Vorinostat</text>
<path d="M107.00,421.30 H128.00" stroke="#c0504d" stroke-width="1.6"/>
<path d="M117.5,418.5 L120,422.5 L115,422.5Z" fill="none" stroke="#c0504d" stroke-width="0.8"/>
<text x="130.60" y="424.10" font-size="7.26" fill="#222" stroke="#222" stroke-width="0.22" textLength="44.10" lengthAdjust="spacingAndGlyphs">Prednisolone</text>
<path d="M107.00,437.00 H127.00" stroke="#4f81bd" stroke-width="1.6"/>
<circle cx="117" cy="437" r="2.2" fill="#4f81bd"/>
<text x="128.90" y="440.50" font-size="7.12" fill="#222" stroke="#222" stroke-width="0.22" textLength="78.20" lengthAdjust="spacingAndGlyphs">Vorinostat + Decitabine</text>
<path d="M216.00,424.30 H224.00" stroke="#000000" stroke-width="2"/>
<circle cx="227.3" cy="424.3" r="3.3" fill="#000"/>
<text x="238.80" y="427.20" font-size="7.40" fill="#222" stroke="#222" stroke-width="0.22" textLength="35.40" lengthAdjust="spacingAndGlyphs">Decitabine</text>
<path d="M276.00,424.60 H281.40 M279.40,422.40 L281.70,424.60 L279.40,426.80" stroke="#333" stroke-width="0.9" fill="none"/>
<text x="282.30" y="427.20" font-size="7.40" fill="#222" stroke="#222" stroke-width="0.22" textLength="43.90" lengthAdjust="spacingAndGlyphs">prednisolone</text>
<path d="M216.00,438.00 H221.50" stroke="#000000" stroke-width="2"/>
<rect x="223.5" y="435" width="6.2" height="6" fill="#000"/>
<path d="M231.50,438.00 H236.00" stroke="#000000" stroke-width="2"/>
<text x="238.80" y="440.50" font-size="7.26" fill="#222" stroke="#222" stroke-width="0.22" textLength="35.10" lengthAdjust="spacingAndGlyphs">Vorinostat</text>
<path d="M274.20,437.70 H280.10 M278.10,435.50 L280.40,437.70 L278.10,439.90" stroke="#333" stroke-width="0.9" fill="none"/>
<text x="280.80" y="440.50" font-size="7.26" fill="#222" stroke="#222" stroke-width="0.22" textLength="44.00" lengthAdjust="spacingAndGlyphs">prednisolone</text>
<path d="M343.00,424.00 H364.50" stroke="#000000" stroke-width="2"/>
<rect x="350.5" y="421" width="6" height="6" fill="#000"/>
<text x="365.50" y="427.60" font-size="7.26" fill="#222" stroke="#222" stroke-width="0.22" textLength="73.70" lengthAdjust="spacingAndGlyphs">Vorinostat+decitabine</text>
<path d="M440.30,425.10 H445.70 M443.70,422.90 L446.00,425.10 L443.70,427.30" stroke="#333" stroke-width="0.9" fill="none"/>
<text x="447.10" y="427.60" font-size="7.26" fill="#222" stroke="#222" stroke-width="0.22" textLength="44.70" lengthAdjust="spacingAndGlyphs">prednisolone</text></g>
</svg></body></html>
